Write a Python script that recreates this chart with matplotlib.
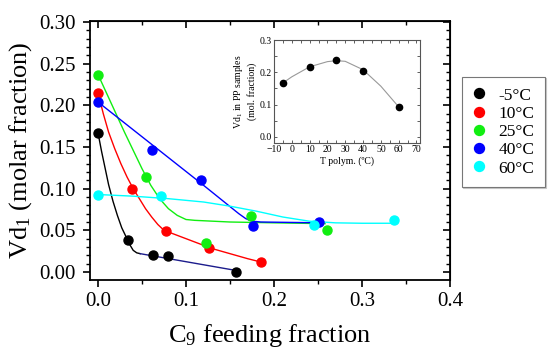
import matplotlib
matplotlib.use("Agg")
import matplotlib.pyplot as plt
from matplotlib.ticker import MultipleLocator

plt.rcParams["font.family"] = ["Liberation Serif", "DejaVu Serif"]
plt.rcParams["mathtext.default"] = "regular"

# ── measured points ──
labels = ["-5°C", "10°C", "25°C", "40°C", "60°C"]
colors = ["#000000", "#ff0000", "#11ee11", "#0000ff", "#00ffff"]

x_m5 = [0.0, 0.034, 0.062, 0.080, 0.157]
y_m5 = [0.167, 0.039, 0.021, 0.019, 0.000]
x_10 = [0.0, 0.039, 0.077, 0.126, 0.185]
y_10 = [0.215, 0.100, 0.049, 0.029, 0.012]
x_25 = [0.0, 0.055, 0.123, 0.174, 0.260]
y_25 = [0.237, 0.114, 0.035, 0.067, 0.051]
x_40 = [0.0, 0.061, 0.117, 0.176, 0.251]
y_40 = [0.204, 0.146, 0.111, 0.055, 0.060]
x_60 = [0.0, 0.072, 0.246, 0.336]
y_60 = [0.093, 0.091, 0.057, 0.063]

# ── guide curves ──
fx_m5 = [0.0, 0.004, 0.008, 0.012, 0.017, 0.022, 0.027, 0.032, 0.036, 0.040, 0.044, 0.048]
fy_m5 = [0.167, 0.145, 0.125, 0.105, 0.085, 0.068, 0.053, 0.042, 0.033, 0.026, 0.023, 0.022]
fx_m5b = [0.048, 0.156]
fy_m5b = [0.022, 0.002]
fx_10 = [0.0, 0.006, 0.012, 0.019, 0.026, 0.033, 0.040, 0.047, 0.054, 0.061, 0.068,
         0.075, 0.085, 0.100, 0.115, 0.130, 0.150, 0.170, 0.185]
fy_10 = [0.215, 0.190, 0.168, 0.148, 0.130, 0.114, 0.100, 0.088, 0.076, 0.066, 0.057,
         0.050, 0.046, 0.040, 0.034, 0.028, 0.022, 0.016, 0.012]
fx_25 = [0.0, 0.010, 0.020, 0.030, 0.040, 0.050, 0.060, 0.070, 0.080, 0.090, 0.100,
         0.110, 0.150, 0.200, 0.258]
fy_25 = [0.237, 0.214, 0.191, 0.168, 0.146, 0.124, 0.104, 0.088, 0.076, 0.068, 0.063,
         0.062, 0.060, 0.059, 0.058]
fx_40 = [0.0, 0.120, 0.160, 0.168, 0.175, 0.185, 0.255]
fy_40 = [0.204, 0.104, 0.070, 0.064, 0.061, 0.060, 0.059]
fx_60 = [0.0, 0.040, 0.080, 0.120, 0.150, 0.180, 0.210, 0.240, 0.270, 0.300, 0.336]
fy_60 = [0.093, 0.091, 0.088, 0.084, 0.079, 0.073, 0.066, 0.061, 0.059, 0.0585, 0.0585]

# ── inset ──
t_polym = [-5, 10, 25, 40, 60]
vd_pp = [0.167, 0.215, 0.237, 0.204, 0.093]
t_fit = [-5, 0, 10, 20, 25, 30, 40, 50, 60]
vd_fit = [0.167, 0.186, 0.217, 0.233, 0.236, 0.234, 0.208, 0.157, 0.093]

fig = plt.figure(figsize=(5.5, 3.6), dpi=100)
ax = fig.add_axes([90 / 550, 1 - 280 / 360, 360 / 550, 259.3 / 360])

curves = [(fx_m5, fy_m5), (fx_10, fy_10), (fx_25, fy_25), (fx_40, fy_40), (fx_60, fy_60)]
points = [(x_m5, y_m5), (x_10, y_10), (x_25, y_25), (x_40, y_40), (x_60, y_60)]
for (fx, fy), c in zip(curves, colors):
    ax.plot(fx, fy, color=c, lw=1.0, zorder=2)
ax.plot(fx_m5b, fy_m5b, color="#1c1c8c", lw=1.0, zorder=2)
for (px, py), c, lab in zip(points, colors, labels):
    ax.plot(px, py, "o", color=c, ms=6.5, mec=c, label=lab, zorder=3)

ax.set_xlim(-0.0091, 0.4)
ax.set_ylim(-0.0096, 0.3016)
ax.xaxis.set_major_locator(MultipleLocator(0.1))
ax.xaxis.set_minor_locator(MultipleLocator(0.05))
ax.yaxis.set_major_locator(MultipleLocator(0.05))
ax.yaxis.set_minor_locator(MultipleLocator(0.01))
ax.xaxis.set_major_formatter(lambda v, p: f"{v:.1f}")
ax.yaxis.set_major_formatter(lambda v, p: f"{v:.2f}")
ax.tick_params(which="major", direction="out", length=5, width=1.2, labelsize=15)
ax.tick_params(axis="y", which="major", pad=5)
ax.tick_params(which="minor", direction="out", length=3, width=1.0)
for s in ax.spines.values():
    s.set_linewidth(1.3)

# Origin-style mirrored ticks pointing inward
top = ax.secondary_xaxis("top")
top.xaxis.set_major_locator(MultipleLocator(0.1))
top.xaxis.set_minor_locator(MultipleLocator(0.05))
top.tick_params(which="major", direction="in", length=5, width=1.2, labeltop=False)
top.tick_params(which="minor", direction="in", length=3, width=1.0)
right = ax.secondary_yaxis("right")
right.yaxis.set_major_locator(MultipleLocator(0.05))
right.yaxis.set_minor_locator(MultipleLocator(0.01))
right.tick_params(which="major", direction="in", length=5, width=1.2, labelright=False)
right.tick_params(which="minor", direction="in", length=3, width=1.0)

ax.set_xlabel("C$_9$ feeding fraction", fontsize=19, labelpad=8)
ax.set_ylabel("Vd$_1$ (molar fraction)", fontsize=19, labelpad=4)

leg = fig.legend(loc="upper left", bbox_to_anchor=(462 / 550, 1 - 77 / 360),
                 fontsize=12.5, frameon=True, fancybox=False,
                 shadow={"ox": 1, "oy": -1, "color": "#c8c8c8", "alpha": 1},
                 edgecolor="#777777", handletextpad=0.7, labelspacing=0.12,
                 borderpad=0.6, borderaxespad=0, handlelength=0.8,
                 markerscale=1.1)
leg.get_frame().set_linewidth(0.8)

# ── inset ──
ins = fig.add_axes([274 / 550, 1 - 143 / 360, 146 / 550, 103 / 360])
ins.plot(t_fit, vd_fit, color="#999999", lw=0.8)
ins.plot(t_polym, vd_pp, "o", color="black", ms=4.5)
ins.set_xlim(-10, 72)
ins.set_ylim(-0.019, 0.3)
ins.xaxis.set_major_locator(MultipleLocator(10))
ins.xaxis.set_minor_locator(MultipleLocator(5))
ins.yaxis.set_major_locator(MultipleLocator(0.1))
ins.yaxis.set_minor_locator(MultipleLocator(0.05))
ins.yaxis.set_major_formatter(lambda v, p: f"{v:.1f}")
ins.tick_params(which="both", direction="in", top=True, right=True,
                labelsize=7, pad=1.5, length=2, width=0.6, colors="#444444",
                labelcolor="black")
for s in ins.spines.values():
    s.set_linewidth(0.8)
    s.set_color("#555555")
ins.set_xlabel("T polym. (ºC)", fontsize=7, labelpad=1.5)
ins.set_ylabel("Vd$_1$ in PP samples\n(mol. fraction)", fontsize=7, labelpad=2)

fig.savefig("out.png", dpi=100)
